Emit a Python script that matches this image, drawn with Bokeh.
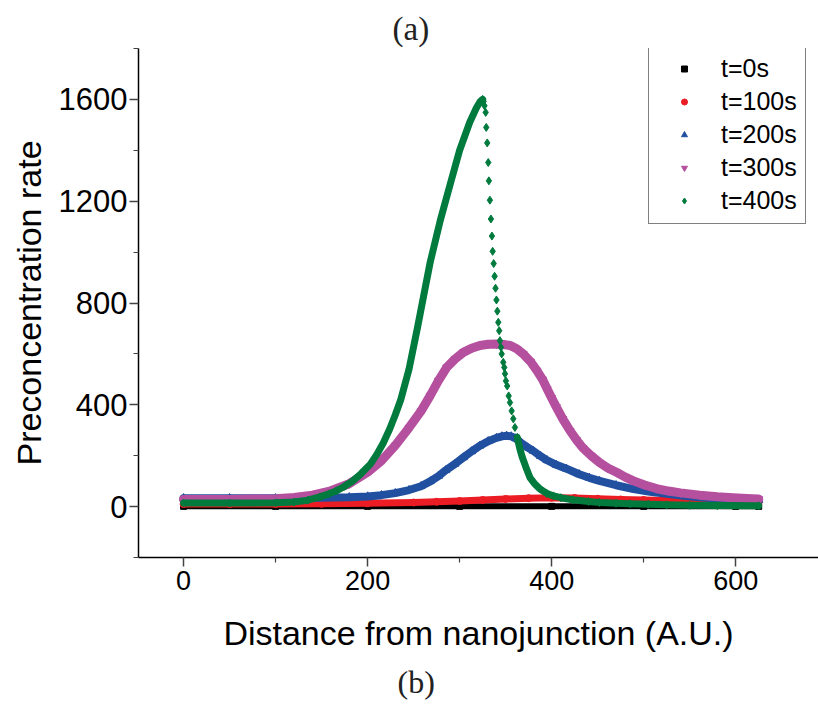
from bokeh.plotting import figure
from bokeh.models import Range1d, Legend, LegendItem, Title, FixedTicker
from bokeh.embed import file_html
from bokeh.resources import INLINE

# ---------------- data ----------------
x_t0 = [0, 100, 200, 300, 400, 500, 600, 625]
y_t0 = [1, 1, 1, 1, 1, 1, 1, 1]

x_t100 = [0, 50, 100, 150, 200, 250, 275, 300, 325, 350, 375, 400, 425, 450, 475,
          500, 550, 600, 625]
y_t100 = [10, 10, 10, 11, 13, 16, 19, 22, 26, 30, 33, 35, 34, 31, 28,
          26, 22, 20, 19]

x_t200 = [0, 50, 100, 150, 180, 200, 215, 230, 245, 258, 268, 277, 285, 295, 304,
          313, 322, 331, 340, 346, 351, 356, 361, 367, 374, 380, 388, 395, 405,
          416, 430, 441, 452, 470, 489, 507, 525, 543, 561, 580, 597, 612, 625]
y_t200 = [33, 33, 33, 35, 37, 40, 45, 53, 65, 80, 99, 120, 143, 168, 193,
          217, 239, 257, 270, 276, 278, 276, 268, 250, 232, 219, 198, 182, 164,
          149, 127, 113, 101, 84, 69, 58, 50, 43, 37, 32, 29, 27, 25]

x_t300 = [0, 50, 100, 120, 140, 160, 180, 200, 215, 230, 245, 258, 268, 277, 286,
          295, 304, 313, 322, 331, 340, 348, 355, 362, 369, 377, 384, 390, 395,
          400, 405, 412, 420, 427, 434, 443, 452, 461, 471, 480, 489, 501, 514,
          527, 540, 561, 580, 597, 612, 625]
y_t300 = [28, 28, 31, 36, 45, 62, 90, 135, 180, 240, 310, 375, 436, 495, 547,
          580, 606, 622, 633, 638, 639, 637, 633, 620, 600, 570, 534, 500, 463,
          427, 392, 345, 298, 262, 230, 200, 173, 152, 134, 116, 101, 85, 71,
          61, 54, 45, 39, 35, 32, 30]

x_t400 = [0, 50, 100, 120, 135, 148, 158, 166, 175, 184, 193, 203, 210, 217, 224,
          230, 236, 245, 254, 261, 268, 279, 290, 300, 311, 318, 322, 325,
          326, 327, 328.3, 328.9, 330, 331.1, 331.8, 332.9, 334, 335.1, 335.9,
          337, 338, 339, 340, 341, 342, 343, 343.8, 344.9, 345.7, 347.4, 348.5,
          349.3, 350.3, 351.7, 353.3, 354.7, 356.5, 358.3, 360.1, 362.6,
          365.5, 368, 372, 376.4, 381, 387, 394.6, 402, 410, 423, 440, 452, 470,
          485, 505, 525, 550, 580, 625]
y_t400 = [14, 14, 15, 18, 25, 38, 50, 62, 80, 101, 130, 167, 205, 250, 305,
          360, 420, 540, 700, 830, 960, 1125, 1270, 1400, 1510, 1565, 1590, 1600,
          1592, 1575, 1549, 1490, 1429, 1352, 1280, 1204, 1130, 1063, 1003,
          955, 905, 858, 812, 768, 724, 691, 652, 626, 600, 567, 547,
          522, 494, 474, 435, 409, 376, 345, 311, 272,
          226, 195, 155, 114, 92, 70, 52, 42, 35, 27, 20, 16, 13,
          11, 9, 7, 5, 4, 3]

series_names = ["t=0s", "t=100s", "t=200s", "t=300s", "t=400s"]
x_ticks = [0, 200, 400, 600]
x_minor = [100, 300, 500]
y_ticks = [0, 400, 800, 1200, 1600]
y_minor = [-200, 200, 600, 1000, 1400, 1800]

# ---------------- figure ----------------
FONT = "Liberation Sans"
p = figure(width=818, height=706, output_backend="svg", toolbar_location=None,
           x_range=Range1d(-49, 690), y_range=Range1d(-200, 1800),
           min_border_left=138, min_border_right=0, min_border_top=48,
           min_border_bottom=149)
p.outline_line_color = None
p.xgrid.visible = False
p.ygrid.visible = False
p.background_fill_color = "white"
p.border_fill_color = "white"

for ax in (p.xaxis[0], p.yaxis[0]):
    ax.axis_line_color = "black"
    ax.axis_line_width = 1.5
    ax.major_tick_out = 9
    ax.major_tick_in = 0
    ax.minor_tick_out = 5
    ax.minor_tick_in = 0
    ax.major_tick_line_color = "#444444"
    ax.minor_tick_line_color = "#444444"
    ax.major_tick_line_width = 1.5
    ax.minor_tick_line_width = 1.2
    ax.major_label_text_font = FONT
    ax.major_label_text_color = "black"
    ax.axis_label_text_font = FONT
    ax.axis_label_text_font_style = "normal"
    ax.axis_label_text_color = "black"
    ax.axis_label_text_font_size = "34px"

p.xaxis[0].ticker = FixedTicker(ticks=x_ticks, minor_ticks=x_minor)
p.yaxis[0].ticker = FixedTicker(ticks=y_ticks, minor_ticks=y_minor)
p.xaxis[0].major_label_text_font_size = "27px"
p.yaxis[0].major_label_text_font_size = "31px"
p.xaxis[0].major_label_standoff = 4
p.yaxis[0].major_label_standoff = 2
p.xaxis[0].axis_label = "Distance from nanojunction (A.U.)"
p.yaxis[0].axis_label = "Preconcentration rate"
p.xaxis[0].axis_label_standoff = 21
p.yaxis[0].axis_label_standoff = 8

# ---------------- series ----------------
colors = ["#000000", "#EC1C24", "#2150A0", "#B5509F", "#007A3D"]
markers = ["square", "circle", "triangle", "inverted_triangle", "diamond"]
widths = [6, 7, 8, 9, 7]
sizes = [6, 7, 8, 8, 8]
xs = [x_t0, x_t100, x_t200, x_t300, x_t400]
ys = [y_t0, y_t100, y_t200, y_t300, y_t400]

items = []
for i in range(5):
    x, y = xs[i], ys[i]
    if i == 4:
        # continuous parts of the green curve; the steep drop is drawn as dots only
        k1 = x.index(325) + 1
        k2 = x.index(362.6)
        p.line(x[:k1], y[:k1], line_color=colors[i], line_width=widths[i],
               line_join="round", line_cap="round")
        p.line(x[k2:], y[k2:], line_color=colors[i], line_width=widths[i],
               line_join="round", line_cap="round")
    else:
        p.line(x, y, line_color=colors[i], line_width=widths[i],
               line_join="round", line_cap="round")
    r = p.scatter(x, y, marker=markers[i], size=sizes[i], fill_color=colors[i],
                  line_color=colors[i])
    items.append(LegendItem(label=series_names[i], renderers=[r]))

legend = Legend(items=items, location=(510, 333))
legend.border_line_color = "black"
legend.border_line_width = 1.2
legend.background_fill_color = "white"
legend.background_fill_alpha = 1.0
legend.label_text_font = FONT
legend.label_text_font_size = "25px"
legend.label_text_color = "black"
legend.padding = 8
legend.spacing = 4
legend.glyph_width = 54
legend.glyph_height = 15
legend.label_height = 29
legend.label_standoff = 10
legend.margin = 0
p.add_layout(legend, "center")

p.add_layout(Title(text="(a)", align="left", offset=254, text_font="Liberation Serif",
                   text_font_size="33px", text_font_style="normal",
                   text_color="#222222", standoff=0, vertical_align="top"), "above")
p.add_layout(Title(text="(b)", align="left", offset=259, text_font="Liberation Serif",
                   text_font_size="32px", text_font_style="normal",
                   text_color="#222222", standoff=14), "below")

open("out.html", "w").write(file_html(p, INLINE))
